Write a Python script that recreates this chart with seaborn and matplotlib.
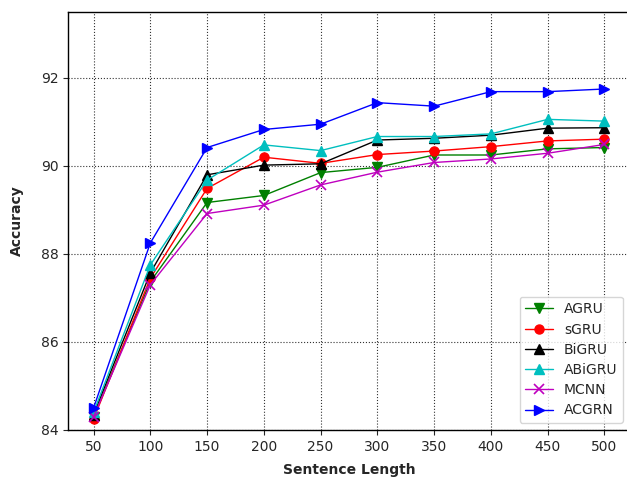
import matplotlib
matplotlib.use("Agg")
import matplotlib.pyplot as plt
import seaborn as sns
import pandas as pd

lengths = [50, 100, 150, 200, 250, 300, 350, 400, 450, 500]
agru = [84.30, 87.37, 89.17, 89.33, 89.85, 89.97, 90.25, 90.25, 90.39, 90.42]
sgru = [84.25, 87.45, 89.49, 90.20, 90.06, 90.26, 90.34, 90.44, 90.57, 90.61]
bigru = [84.35, 87.57, 89.80, 90.02, 90.05, 90.59, 90.63, 90.70, 90.86, 90.87]
abigru = [84.40, 87.75, 89.68, 90.48, 90.35, 90.67, 90.67, 90.73, 91.06, 91.02]
mcnn = [84.30, 87.30, 88.92, 89.11, 89.57, 89.86, 90.08, 90.16, 90.29, 90.49]
acgrn = [84.50, 88.25, 90.42, 90.83, 90.95, 91.44, 91.36, 91.69, 91.69, 91.75]

series = [
    ("AGRU", agru, "g", "v"),
    ("sGRU", sgru, "r", "o"),
    ("BiGRU", bigru, "k", "^"),
    ("ABiGRU", abigru, "c", "^"),
    ("MCNN", mcnn, "m", "x"),
    ("ACGRN", acgrn, "b", ">"),
]

sns.set_style("ticks")
plt.rcParams['font.family'] = ['DejaVu Sans']

fig = plt.figure(figsize=(6.27, 4.78), dpi=100)
ax = fig.add_axes([68/627, 1-430/478, (630-68)/627, (430-12)/478])

for name, vals, col, mk in series:
    df = pd.DataFrame({"x": lengths, "y": vals})
    sns.lineplot(data=df, x="x", y="y", ax=ax, color=col, marker=mk,
                 markersize=6.5, linewidth=1, label=name,
                 markeredgecolor=col, markeredgewidth=1 if mk != "x" else 1.2)

ax.set_xlim(27.5, 522.5)
ax.set_ylim(84, 93.5)
ax.set_xticks(lengths)
ax.set_yticks([84, 86, 88, 90, 92])
ax.grid(True, linestyle=":", color="#333333", linewidth=0.8)
ax.set_xlabel("Sentence Length", fontweight="bold", fontsize=10, labelpad=7)
ax.set_ylabel("Accuracy", fontweight="bold", fontsize=10, labelpad=12)
ax.tick_params(labelsize=10, direction="out", length=3.5)
for s in ax.spines.values():
    s.set_color("black")
    s.set_linewidth(1)
ax.legend(loc="lower right", fontsize=10, frameon=True, labelspacing=0.45)

fig.savefig("out.png", dpi=100)
